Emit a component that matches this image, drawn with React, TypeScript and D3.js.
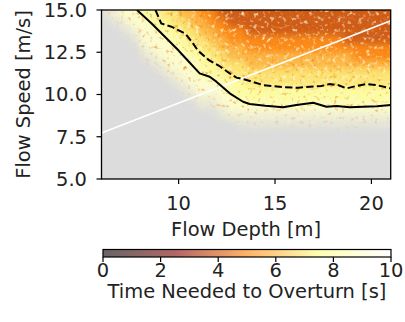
import React from "react";
import * as d3 from "d3";

// ---- data ----
const depthTicks = [10, 15, 20];
const speedTicks = [5.0, 7.5, 10.0, 12.5, 15.0];
const cbarTicks = [0, 2, 4, 6, 8, 10];

// Scatter cloud binned on a 0.5 m x 0.5 m/s grid (cols: depth 6..21, rows: speed 15 downwards)
// digit = time to overturn [s] (dense), lowercase a-j = medium density, uppercase A-J = sparse, '.' = none
const cloudRows = [
  "Jj99887766" + "5544444444" + "4444444444",
  ".Jj9988776" + "6554444444" + "4444444444",
  "..Jj998877" + "6655544444" + "4444444444",
  "...J999887" + "7665555555" + "5555544444",
  "....j99988" + "7766655555" + "5555555555",
  "....Jj9998" + "8776666666" + "6666665555",
  ".....Jj999" + "8877766666" + "6666666666",
  "......Jj99" + "8887777777" + "7777777777",
  ".......Jj9" + "9988877777" + "7777777777",
  "........Jj" + "9998888888" + "8888888888",
  ".........J" + "jj99888888" + "8888888888",
  ".........." + "JJj9999999" + "9999999999",
  ".........." + "..Jjjjjjjj" + "jjjjjjjjjj",
  ".........." + "....JJJJJJ" + "JJJJJJJJJJ",
];

const solidDepth = [7.84, 8.6, 9.3, 10.0, 10.4, 11.09, 11.61, 11.96, 12.65, 13.34, 13.69, 14.5, 15.42, 16.11, 16.98, 17.67, 18.19, 18.88, 19.57, 20.3, 21.0];
const solidSpeed = [15.0, 14.2, 13.4, 12.6, 12.1, 11.25, 11.05, 10.76, 10.07, 9.57, 9.44, 9.33, 9.24, 9.38, 9.51, 9.28, 9.32, 9.24, 9.28, 9.3, 9.38];

const dashedDepth = [8.8, 9.1, 9.65, 10.35, 10.7, 11.0, 11.55, 12.1, 12.65, 13.0, 13.52, 14.38, 15.42, 16.2, 16.81, 17.4, 17.84, 18.3, 18.71, 19.2, 19.75, 20.3, 21.0];
const dashedSpeed = [15.0, 14.2, 14.0, 13.6, 13.1, 12.6, 12.05, 11.7, 11.25, 11.0, 10.86, 10.56, 10.43, 10.4, 10.46, 10.5, 10.62, 10.55, 10.36, 10.5, 10.62, 10.55, 10.36];

const whiteDepth = [6, 21];
const whiteSpeed = [7.72, 14.37];

// ---- layout ----
const W = 405, H = 322;
const L = 101.5, R = 390.7, T = 10, B = 179;
const FONT = "DejaVu Sans, Liberation Sans, sans-serif";
const FS = 19.44;

function afmhot(t: number) {
  const c = (v: number) => Math.max(0, Math.min(1, v));
  return d3.rgb(255 * c(2 * t), 255 * c(2 * t - 0.5), 255 * c(2 * t - 1)).formatHex();
}

export default function App() {
  const x = d3.scaleLinear().domain([6, 21]).range([L, R]);
  const y = d3.scaleLinear().domain([5, 15]).range([B, T]);
  const cx = d3.scaleLinear().domain([0, 10]).range([103, 391]);
  const cell = 0.5;

  const cells: React.ReactNode[] = [];
  cloudRows.forEach((row, ri) => {
    const vTop = 15 - ri * cell;
    for (let ci = 0; ci < row.length; ci++) {
      const ch = row[ci];
      if (ch === ".") continue;
      let val: number, op: number;
      if (ch >= "0" && ch <= "9") { val = +ch; op = 0.92; }
      else if (ch >= "a" && ch <= "j") { val = ch.charCodeAt(0) - 97; op = 0.55; }
      else { val = ch.charCodeAt(0) - 65; op = 0.25; }
      const d0 = 6 + ci * cell;
      let x0 = x(d0), x1 = x(d0 + cell);
      let y0 = y(vTop), y1 = y(vTop - cell);
      if (ri === 0) y0 -= 10;
      if (ci === row.length - 1) x1 += 10;
      cells.push(
        <rect key={`${ri}-${ci}`} x={x0} y={y0} width={x1 - x0} height={y1 - y0}
          fill={afmhot(val / 10)} fillOpacity={op} />
      );
    }
  });

  const line = (xs: number[], ys: number[]) =>
    d3.line<number>().x((_, i) => x(xs[i])).y((_, i) => y(ys[i]))(xs.map((_, i) => i)) || "";

  const stops = [0, 0.25, 0.5, 0.75, 1];

  return (
    <div style={{ position: "fixed", left: 0, top: 0 }}>
      <svg width={W} height={H} style={{ display: "block", background: "#fff" }}>
        <defs>
          <clipPath id="plotclip">
            <rect x={L} y={T} width={R - L} height={B - T} />
          </clipPath>
          <filter id="soft" x="-10%" y="-10%" width="120%" height="120%" colorInterpolationFilters="sRGB">
            <feGaussianBlur in="SourceGraphic" stdDeviation="3.5" result="b" />
            <feTurbulence type="fractalNoise" baseFrequency="0.24" numOctaves="2" seed="7" result="n" />
            <feColorMatrix in="n" type="matrix"
              values="0 0 0 0 1  0 0 0 0 0.97  0 0 0 0 0.85  3.4 0 0 0 -1.9" result="w" />
            <feComposite in="w" in2="b" operator="in" result="wm" />
            <feColorMatrix in="n" type="matrix"
              values="0 0 0 0 0.93  0 0 0 0 0.5  0 0 0 0 0.08  0 3 0 0 -1.8" result="o" />
            <feComposite in="o" in2="b" operator="in" result="om" />
            <feMerge>
              <feMergeNode in="b" />
              <feMergeNode in="om" />
              <feMergeNode in="wm" />
            </feMerge>
          </filter>
          <linearGradient id="cbar" x1="0" x2="1" y1="0" y2="0">
            {stops.map((s) => (
              <stop key={s} offset={s} stopColor={afmhot(s)} stopOpacity={0.6} />
            ))}
          </linearGradient>
        </defs>

        {/* plot background */}
        <rect x={L} y={T} width={R - L} height={B - T} fill="#dcdcdc" />
        <g clipPath="url(#plotclip)">
          <g filter="url(#soft)">{cells}</g>
          <path d={line(whiteDepth, whiteSpeed)} fill="none" stroke="#fff" strokeWidth={1.6} />
          <path d={line(solidDepth, solidSpeed)} fill="none" stroke="#000" strokeWidth={2} strokeLinejoin="round" />
          <path d={line(dashedDepth, dashedSpeed)} fill="none" stroke="#000" strokeWidth={2} strokeDasharray="7.4,3.2" />
        </g>
        <rect x={L} y={T} width={R - L} height={B - T} fill="none" stroke="#000" strokeWidth={1.3} />

        {/* x axis */}
        {depthTicks.map((t) => (
          <g key={t}>
            <line x1={x(t)} x2={x(t)} y1={B} y2={B + 5} stroke="#000" strokeWidth={1.2} />
            <text x={x(t)} y={209.5} textAnchor="middle" fontFamily={FONT} fontSize={FS} fill="#222">{t}</text>
          </g>
        ))}
        <text x={(L + R) / 2} y={236} textAnchor="middle" fontFamily={FONT} fontSize={FS} fill="#222">Flow Depth [m]</text>

        {/* y axis */}
        {speedTicks.map((t) => (
          <g key={t}>
            <line x1={L - 5} x2={L} y1={y(t)} y2={y(t)} stroke="#000" strokeWidth={1.2} />
            <text x={87} y={y(t)} dy="0.36em" textAnchor="end" fontFamily={FONT} fontSize={FS} fill="#222">{t.toFixed(1)}</text>
          </g>
        ))}
        <text transform={`translate(30,${(T + B) / 2}) rotate(-90)`} textAnchor="middle" fontFamily={FONT} fontSize={FS} fill="#222">Flow Speed [m/s]</text>

        {/* colorbar */}
        <rect x={cx(0)} y={249.5} width={cx(10) - cx(0)} height={7.5} fill="url(#cbar)" stroke="#000" strokeWidth={1.2} />
        {cbarTicks.map((t) => (
          <g key={t}>
            <line x1={cx(t)} x2={cx(t)} y1={257} y2={262} stroke="#000" strokeWidth={1.2} />
            <text x={cx(t)} y={277} textAnchor="middle" fontFamily={FONT} fontSize={FS} fill="#222">{t}</text>
          </g>
        ))}
        <text x={(cx(0) + cx(10)) / 2} y={298} textAnchor="middle" fontFamily={FONT} fontSize={FS} fill="#222">Time Needed to Overturn [s]</text>
      </svg>
    </div>
  );
}
